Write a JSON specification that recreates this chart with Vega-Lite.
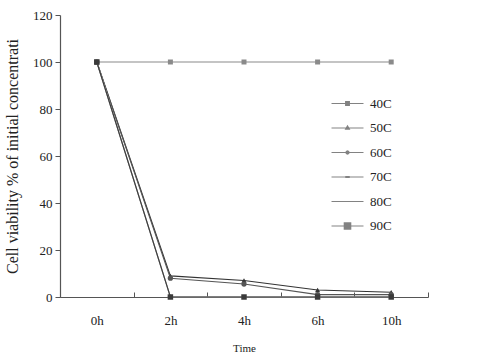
{
  "$schema": "https://vega.github.io/schema/vega-lite/v6.json",
  "width": 368,
  "height": 282,
  "autosize": {"type": "none"},
  "padding": {"left": 60, "top": 15, "right": 59, "bottom": 61},
  "background": "white",
  "config": {
    "font": "Liberation Serif",
    "view": {"stroke": null},
    "axis": {"labelFont": "Liberation Serif", "titleFont": "Liberation Serif", "titleFontWeight": "normal", "labelColor": "#222", "titleColor": "#222", "domainColor": "#555", "tickColor": "#555", "grid": false}
  },
  "data": {
    "values": [
      {"Time": "0h", "Temp": "40C", "v": 100}, {"Time": "2h", "Temp": "40C", "v": 100}, {"Time": "4h", "Temp": "40C", "v": 100}, {"Time": "6h", "Temp": "40C", "v": 100}, {"Time": "10h", "Temp": "40C", "v": 100},
      {"Time": "0h", "Temp": "50C", "v": 100}, {"Time": "2h", "Temp": "50C", "v": 9}, {"Time": "4h", "Temp": "50C", "v": 7}, {"Time": "6h", "Temp": "50C", "v": 3}, {"Time": "10h", "Temp": "50C", "v": 2},
      {"Time": "0h", "Temp": "60C", "v": 100}, {"Time": "2h", "Temp": "60C", "v": 8}, {"Time": "4h", "Temp": "60C", "v": 5.5}, {"Time": "6h", "Temp": "60C", "v": 1}, {"Time": "10h", "Temp": "60C", "v": 1},
      {"Time": "0h", "Temp": "70C", "v": 100}, {"Time": "2h", "Temp": "70C", "v": 0}, {"Time": "4h", "Temp": "70C", "v": 0}, {"Time": "6h", "Temp": "70C", "v": 0}, {"Time": "10h", "Temp": "70C", "v": 0},
      {"Time": "0h", "Temp": "80C", "v": 100}, {"Time": "2h", "Temp": "80C", "v": 0}, {"Time": "4h", "Temp": "80C", "v": 0}, {"Time": "6h", "Temp": "80C", "v": 0}, {"Time": "10h", "Temp": "80C", "v": 0},
      {"Time": "0h", "Temp": "90C", "v": 100}, {"Time": "2h", "Temp": "90C", "v": 0}, {"Time": "4h", "Temp": "90C", "v": 0}, {"Time": "6h", "Temp": "90C", "v": 0}, {"Time": "10h", "Temp": "90C", "v": 0}
    ]
  },
  "encoding": {
    "x": {
      "field": "Time", "type": "nominal", "sort": ["0h", "2h", "4h", "6h", "10h"],
      "scale": {"type": "band", "paddingInner": 0, "paddingOuter": 0},
      "axis": {"title": "Time", "titleFontSize": 11, "titlePadding": 15, "labelAngle": 0, "labelFontSize": 13, "tickBand": "extent", "tickSize": -5, "labelPadding": 22, "domainWidth": 1.2}
    },
    "y": {
      "field": "v", "type": "quantitative",
      "scale": {"domain": [0, 120], "nice": false},
      "axis": {"title": "Cell viability % of initial concentrati", "titleFontSize": 16, "values": [0, 20, 40, 60, 80, 100, 120], "labelFontSize": 13, "tickSize": 5, "labelPadding": 3, "titlePadding": 12, "domainWidth": 1.2}
    },
    "color": {
      "field": "Temp", "type": "nominal",
      "scale": {"domain": ["40C", "50C", "60C", "70C", "80C", "90C"], "range": ["#8a8a8a", "#333333", "#555555", "#9a9a9a", "#bbbbbb", "#3a3a3a"]}
    }
  },
  "layer": [
    {
      "mark": {"type": "line", "strokeWidth": 1.1},
      "encoding": {"detail": {"field": "Temp"}, "color": {"field": "Temp", "type": "nominal", "legend": null}}
    },
    {
      "mark": {"type": "point", "filled": true, "opacity": 1, "strokeWidth": 0.5},
      "encoding": {
        "shape": {"field": "Temp", "type": "nominal", "legend": null, "scale": {"domain": ["40C", "50C", "60C", "70C", "80C", "90C"], "range": ["square", "triangle-up", "circle", "M-1,-0.35H1V0.35H-1Z", "M-0.5,-0.2H0.5V0.2H-0.5Z", "square"]}},
        "size": {"field": "Temp", "type": "nominal", "legend": null, "scale": {"domain": ["40C", "50C", "60C", "70C", "80C", "90C"], "range": [25, 30, 22, 16, 4, 64]}},
        "color": {"field": "Temp", "type": "nominal", "legend": null}
      }
    },
    {
      "transform": [{"filter": "datum.v > 1000"}],
      "mark": {"type": "point", "filled": true},
      "encoding": {
        "shape": {
          "field": "Temp", "type": "nominal",
          "scale": {"domain": ["40C", "50C", "60C", "70C", "80C", "90C"], "range": [
            "M-1.43,-0.045H1.43V0.045H-1.43ZM-0.22,-0.22H0.22V0.22H-0.22Z",
            "M-1.43,-0.045H1.43V0.045H-1.43ZM0,-0.3L0.26,0.16H-0.26Z",
            "M-1.43,-0.045H1.43V0.045H-1.43ZM0.2,0L0.14,0.14L0,0.2L-0.14,0.14L-0.2,0L-0.14,-0.14L0,-0.2L0.14,-0.14Z",
            "M-1.43,-0.045H1.43V0.045H-1.43ZM-0.2,-0.09H0.2V0.09H-0.2Z",
            "M-1.43,-0.045H1.43V0.045H-1.43Z",
            "M-1.43,-0.045H1.43V0.045H-1.43ZM-0.34,-0.34H0.34V0.34H-0.34Z"
          ]},
          "legend": {
            "title": null, "orient": "none", "legendX": 276, "legendY": 77, "padding": 0,
            "symbolSize": 500, "symbolStrokeWidth": 0, "rowPadding": 5.5, "labelFontSize": 13, "labelOffset": 11, "labelColor": "#222"
          }
        },
        "color": {"field": "Temp", "type": "nominal"}
      }
    }
  ],
  "resolve": {"scale": {"shape": "independent", "size": "independent"}, "legend": {"shape": "independent"}}
}
